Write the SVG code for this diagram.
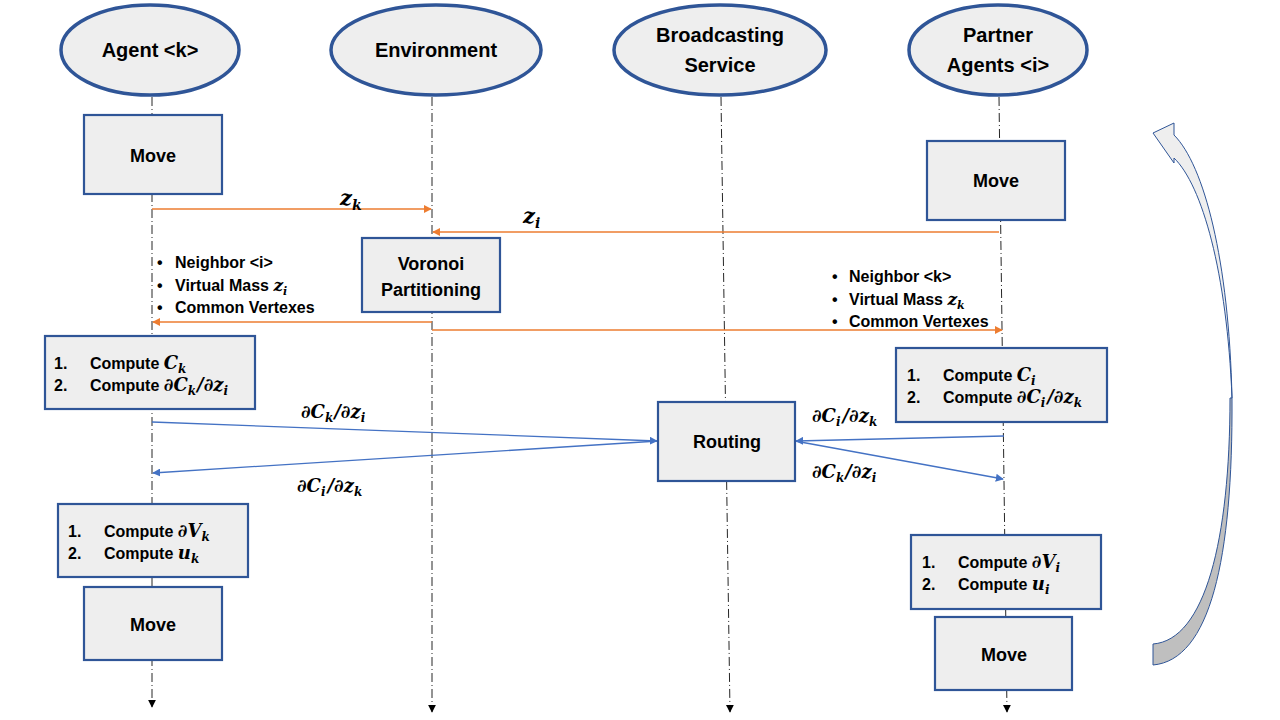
<svg xmlns="http://www.w3.org/2000/svg" width="1280" height="720" viewBox="0 0 1280 720">
<style>
.bg{fill:#ffffff}
.actor{fill:#eeeeee;stroke:#2f5597;stroke-width:3.5}
.box{fill:#eeeeee;stroke:#2f5597;stroke-width:2.2}
.life{fill:none;stroke:#262626;stroke-width:1;stroke-dasharray:9,3,1,3}
.or{fill:none;stroke:#ed7d31;stroke-width:1.3}
.bl{fill:none;stroke:#4472c4;stroke-width:1.3}
.t{font-family:"Liberation Sans",Arial,sans-serif;font-weight:bold;fill:#000000}
.h{font-size:20px;text-anchor:middle}
.b{font-size:18px;text-anchor:middle}
.s{font-size:16px}
.m{font-family:"DejaVu Serif","Liberation Serif",serif;font-weight:bold;font-style:italic}
</style>
<defs>
<marker id="ao" viewBox="0 0 10 10" refX="9" refY="5" markerWidth="8" markerHeight="8" markerUnits="userSpaceOnUse" orient="auto"><path d="M0,0 L10,5 L0,10 Z" fill="#ed7d31"/></marker>
<marker id="ab" viewBox="0 0 10 10" refX="9" refY="5" markerWidth="8" markerHeight="8" markerUnits="userSpaceOnUse" orient="auto"><path d="M0,0 L10,5 L0,10 Z" fill="#4472c4"/></marker>
<marker id="ak" viewBox="0 0 10 10" refX="9" refY="5" markerWidth="8" markerHeight="8" markerUnits="userSpaceOnUse" orient="auto"><path d="M0,0 L10,5 L0,10 Z" fill="#000000"/></marker>
</defs>
<rect class="bg" x="0" y="0" width="1280" height="720"/>

<g id="lifelines">
<line class="life" x1="152" y1="97" x2="152" y2="707" marker-end="url(#ak)"/>
<line class="life" x1="432" y1="97" x2="432" y2="712" marker-end="url(#ak)"/>
<line class="life" x1="721" y1="97" x2="730" y2="712" marker-end="url(#ak)"/>
<line class="life" x1="999" y1="97" x2="1007" y2="712" marker-end="url(#ak)"/>
</g>

<g id="actor-agent-k"><ellipse class="actor" cx="150" cy="50" rx="89" ry="45"/><text class="t h" x="150" y="57">Agent &lt;k&gt;</text></g>
<g id="actor-environment"><ellipse class="actor" cx="436" cy="50" rx="105" ry="45"/><text class="t h" x="436" y="57">Environment</text></g>
<g id="actor-broadcasting"><ellipse class="actor" cx="720" cy="50" rx="106" ry="45"/><text class="t h" x="720" y="42">Broadcasting</text><text class="t h" x="720" y="72">Service</text></g>
<g id="actor-partner"><ellipse class="actor" cx="998" cy="50" rx="89" ry="45"/><text class="t h" x="998" y="42">Partner</text><text class="t h" x="998" y="72">Agents &lt;i&gt;</text></g>

<g id="connectors">
<line class="or" x1="152" y1="209" x2="431" y2="209" marker-end="url(#ao)"/>
<line class="or" x1="999" y1="232" x2="433" y2="232" marker-end="url(#ao)"/>
<line class="or" x1="432" y1="322" x2="153" y2="322" marker-end="url(#ao)"/>
<line class="or" x1="432" y1="330" x2="1002" y2="330" marker-end="url(#ao)"/>
<line class="bl" x1="152" y1="422" x2="657" y2="441" marker-end="url(#ab)"/>
<line class="bl" x1="658" y1="441" x2="153" y2="473" marker-end="url(#ab)"/>
<line class="bl" x1="1004" y1="436" x2="796" y2="441" marker-end="url(#ab)"/>
<line class="bl" x1="795" y1="441" x2="1003" y2="479" marker-end="url(#ab)"/>
</g>

<g id="labels">
<text class="t m" x="340" y="205" font-size="21">z<tspan font-size="14" dy="5">k</tspan></text>
<text class="t m" x="523" y="223" font-size="21">z<tspan font-size="14" dy="5">i</tspan></text>
<text class="t m" x="301" y="418" font-size="18">∂C<tspan font-size="12" dy="4">k</tspan><tspan dx="1" dy="-4">/∂z</tspan><tspan font-size="12" dy="4">i</tspan></text>
<text class="t m" x="297" y="492" font-size="18">∂C<tspan font-size="12" dy="4">i</tspan><tspan dx="2" dy="-4">/∂z</tspan><tspan font-size="12" dy="4">k</tspan></text>
<text class="t m" x="812" y="422" font-size="18">∂C<tspan font-size="12" dy="4">i</tspan><tspan dx="2" dy="-4">/∂z</tspan><tspan font-size="12" dy="4">k</tspan></text>
<text class="t m" x="812" y="478" font-size="18">∂C<tspan font-size="12" dy="4">k</tspan><tspan dx="1" dy="-4">/∂z</tspan><tspan font-size="12" dy="4">i</tspan></text>
</g>

<g id="bullets-k">
<text class="t s" x="157" y="268">•</text><text class="t s" x="175" y="268">Neighbor &lt;i&gt;</text>
<text class="t s" x="157" y="291">•</text><text class="t s" x="175" y="291">Virtual Mass <tspan class="m" font-size="17">z</tspan><tspan class="m" font-size="11" dy="4">i</tspan></text>
<text class="t s" x="157" y="313">•</text><text class="t s" x="175" y="313">Common Vertexes</text>
</g>
<g id="bullets-i">
<text class="t s" x="832" y="282">•</text><text class="t s" x="849" y="282">Neighbor &lt;k&gt;</text>
<text class="t s" x="832" y="305">•</text><text class="t s" x="849" y="305">Virtual Mass <tspan class="m" font-size="17">z</tspan><tspan class="m" font-size="11" dy="4">k</tspan></text>
<text class="t s" x="832" y="327">•</text><text class="t s" x="849" y="327">Common Vertexes</text>
</g>

<g id="move-k-1"><rect class="box" x="84" y="115" width="138" height="79"/><text class="t b" x="153" y="162">Move</text></g>
<g id="move-i-1"><rect class="box" x="927" y="141" width="138" height="79"/><text class="t b" x="996" y="187">Move</text></g>
<g id="voronoi"><rect class="box" x="362" y="238" width="138" height="74"/><text class="t b" x="431" y="270">Voronoi</text><text class="t b" x="431" y="296">Partitioning</text></g>
<g id="compute-k-1"><rect class="box" x="45" y="336" width="210" height="73"/>
<text class="t s" x="54" y="369">1.<tspan x="90">Compute </tspan><tspan class="m" font-size="18">C</tspan><tspan class="m" font-size="12" dy="4">k</tspan></text>
<text class="t s" x="54" y="391">2.<tspan x="90">Compute </tspan><tspan class="m" font-size="18">∂C</tspan><tspan class="m" font-size="12" dy="4">k</tspan><tspan class="m" font-size="18" dx="1" dy="-4">/∂z</tspan><tspan class="m" font-size="12" dy="4">i</tspan></text>
</g>
<g id="compute-i-1"><rect class="box" x="896" y="348" width="211" height="74"/>
<text class="t s" x="907" y="381">1.<tspan x="943">Compute </tspan><tspan class="m" font-size="18">C</tspan><tspan class="m" font-size="12" dy="4">i</tspan></text>
<text class="t s" x="907" y="403">2.<tspan x="943">Compute </tspan><tspan class="m" font-size="18">∂C</tspan><tspan class="m" font-size="12" dy="4">i</tspan><tspan class="m" font-size="18" dx="2" dy="-4">/∂z</tspan><tspan class="m" font-size="12" dy="4">k</tspan></text>
</g>
<g id="routing"><rect class="box" x="658" y="402" width="137" height="79"/><text class="t b" x="727" y="448">Routing</text></g>
<g id="compute-k-2"><rect class="box" x="58" y="504" width="190" height="73"/>
<text class="t s" x="68" y="537">1.<tspan x="104">Compute </tspan><tspan class="m" font-size="18">∂V</tspan><tspan class="m" font-size="12" dy="4">k</tspan></text>
<text class="t s" x="68" y="559">2.<tspan x="104">Compute </tspan><tspan class="m" font-size="18">u</tspan><tspan class="m" font-size="12" dy="4">k</tspan></text>
</g>
<g id="compute-i-2"><rect class="box" x="911" y="535" width="190" height="74"/>
<text class="t s" x="922" y="568">1.<tspan x="958">Compute </tspan><tspan class="m" font-size="18">∂V</tspan><tspan class="m" font-size="12" dy="4">i</tspan></text>
<text class="t s" x="922" y="590">2.<tspan x="958">Compute </tspan><tspan class="m" font-size="18">u</tspan><tspan class="m" font-size="12" dy="4">i</tspan></text>
</g>
<g id="move-k-2"><rect class="box" x="84" y="587" width="138" height="73"/><text class="t b" x="153" y="631">Move</text></g>
<g id="move-i-2"><rect class="box" x="935" y="617" width="137" height="73"/><text class="t b" x="1004" y="661">Move</text></g>

<g id="loop-arrow">
<path d="M1230,398 C1230,540 1205,640 1153,644 L1153,665 C1210,660 1233,560 1232,398 Z" fill="#bfbfbf" stroke="#2f5597" stroke-width="1"/>
<path d="M1153,133 L1174,123 L1174,135 C1204,165 1229,260 1232,398 C1227,272 1202,185 1174,158 L1174,163 Z" fill="#eeeeee" stroke="#2f5597" stroke-width="1"/>
</g>
</svg>
